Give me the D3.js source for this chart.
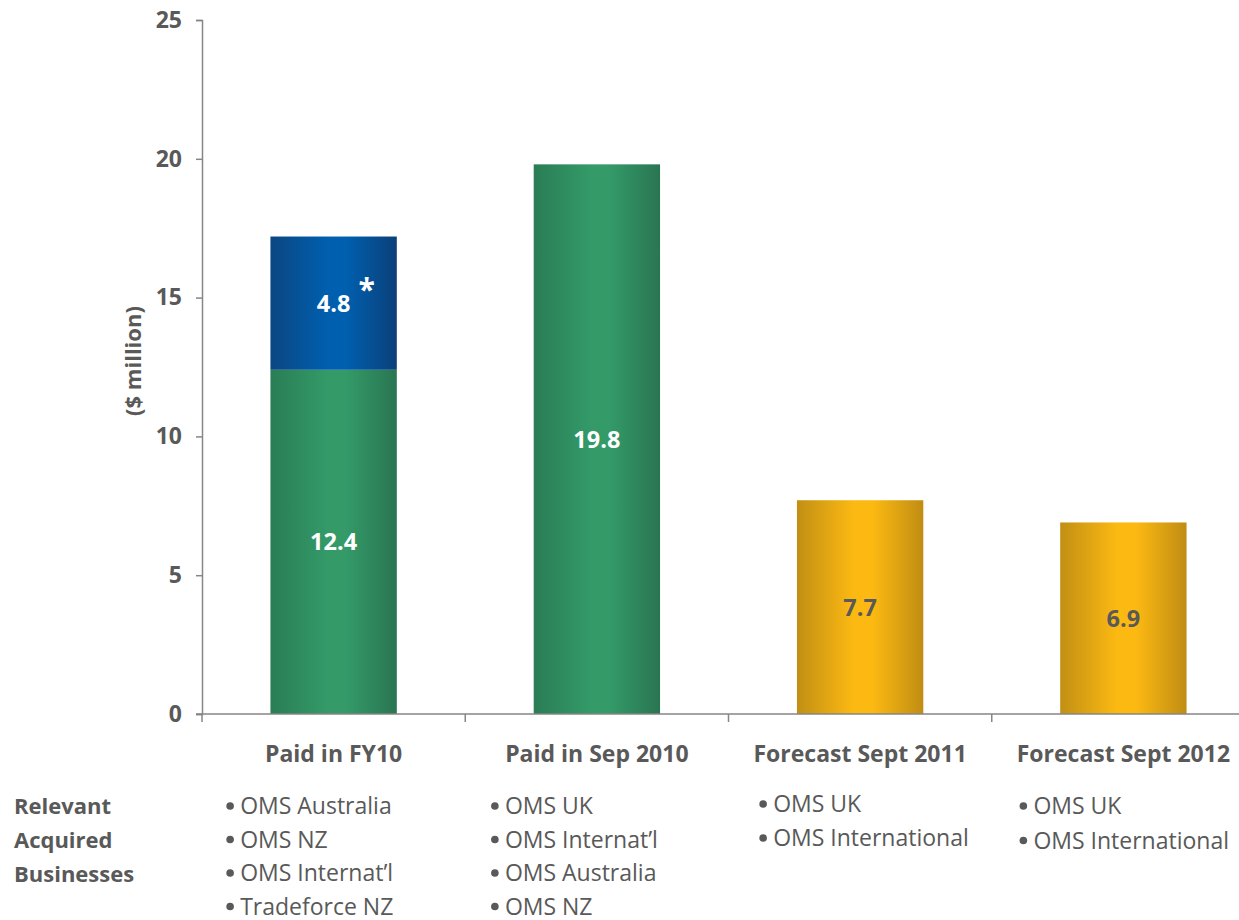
<!DOCTYPE html>
<html>
<head>
<meta charset="utf-8">
<script src="https://cdn.jsdelivr.net/npm/d3@7"></script>
<style>
  html, body { margin: 0; padding: 0; background: #fff; }
  svg { display: block; font-family: "Open Sans", Lato, sans-serif; }
</style>
</head>
<body>
<svg id="chart" width="1239" height="920"></svg>
<script>
// Earn-out payments by period ($ million)
const categories = ["Paid in FY10", "Paid in Sep 2010", "Forecast Sept 2011", "Forecast Sept 2012"];
const paidValues = [12.4, 19.8, 0, 0];       // green segments
const extraValues = [4.8, 0, 0, 0];          // blue segment stacked on top
const forecastValues = [0, 0, 7.7, 6.9];     // gold forecast bars
const yTicks = [0, 5, 10, 15, 20, 25];
const businesses = [
  ["OMS Australia", "OMS NZ", "OMS Internat\u2019l", "Tradeforce NZ"],
  ["OMS UK", "OMS Internat\u2019l", "OMS Australia", "OMS NZ"],
  ["OMS UK", "OMS International"],
  ["OMS UK", "OMS International"]
];
const rowLabel = ["Relevant", "Acquired", "Businesses"];

const svg = d3.select("#chart");
const textColor = "#595959";
const axisColor = "#868686";
const fontFam = "'Open Sans', Lato, sans-serif";

const x = d3.scaleBand().domain(categories).range([202, 1255]).padding(0);
const y = d3.scaleLinear().domain([0, 25]).range([714, 20]);
const barW = x.bandwidth() * 0.48;
const barX = c => x(c) + (x.bandwidth() - barW) / 2;

// Horizontal "cylinder" gradients
const defs = svg.append("defs");
function grad(id, edgeL, mid, edgeR) {
  const g = defs.append("linearGradient").attr("id", id)
    .attr("x1", "0%").attr("x2", "100%").attr("y1", "0%").attr("y2", "0%");
  g.append("stop").attr("offset", "0%").attr("stop-color", edgeL);
  g.append("stop").attr("offset", "45%").attr("stop-color", mid);
  g.append("stop").attr("offset", "60%").attr("stop-color", mid);
  g.append("stop").attr("offset", "100%").attr("stop-color", edgeR);
}
grad("gGreen", "#2a7d55", "#339a68", "#2a7552");
grad("gBlue", "#0b4682", "#005fae", "#0a4079");
grad("gGold", "#c18f14", "#fcb912", "#c08d13");

// Green paid bars
svg.append("g").selectAll("rect").data(categories.filter((c, i) => paidValues[i] > 0))
  .join("rect")
  .attr("x", c => barX(c))
  .attr("width", barW)
  .attr("y", c => y(paidValues[categories.indexOf(c)]))
  .attr("height", c => y(0) - y(paidValues[categories.indexOf(c)]))
  .attr("fill", "url(#gGreen)");

// Blue stacked segment
svg.append("g").selectAll("rect").data(categories.filter((c, i) => extraValues[i] > 0))
  .join("rect")
  .attr("x", c => barX(c))
  .attr("width", barW)
  .attr("y", c => { const i = categories.indexOf(c); return y(paidValues[i] + extraValues[i]); })
  .attr("height", c => { const i = categories.indexOf(c); return y(paidValues[i]) - y(paidValues[i] + extraValues[i]); })
  .attr("fill", "url(#gBlue)");

// Gold forecast bars
svg.append("g").selectAll("rect").data(categories.filter((c, i) => forecastValues[i] > 0))
  .join("rect")
  .attr("x", c => barX(c))
  .attr("width", barW)
  .attr("y", c => y(forecastValues[categories.indexOf(c)]))
  .attr("height", c => y(0) - y(forecastValues[categories.indexOf(c)]))
  .attr("fill", "url(#gGold)");

// Value labels centred in each segment
const labels = [];
categories.forEach((c, i) => {
  const cx = x(c) + x.bandwidth() / 2;
  if (paidValues[i] > 0) labels.push({ x: cx, y: (y(0) + y(paidValues[i])) / 2, t: paidValues[i].toFixed(1), fill: "#fff" });
  if (extraValues[i] > 0) labels.push({ x: cx, y: (y(paidValues[i]) + y(paidValues[i] + extraValues[i])) / 2, t: extraValues[i].toFixed(1), fill: "#fff", star: true });
  if (forecastValues[i] > 0) labels.push({ x: cx, y: (y(0) + y(forecastValues[i])) / 2, t: forecastValues[i].toFixed(1), fill: textColor });
});
const lg = svg.append("g").attr("font-weight", "bold").attr("font-size", 23.5);
lg.selectAll("text.v").data(labels).join("text").attr("class", "v")
  .attr("x", d => d.x).attr("y", d => d.y).attr("dy", "0.36em")
  .attr("text-anchor", "middle").attr("fill", d => d.fill).text(d => d.t);
lg.selectAll("text.s").data(labels.filter(d => d.star)).join("text").attr("class", "s")
  .attr("x", d => d.x + 33).attr("y", d => d.y - 3)
  .attr("text-anchor", "middle").attr("fill", "#fff").attr("font-size", 30).text("*");

// Y axis
const yAxis = svg.append("g").attr("transform", "translate(202,0)")
  .call(d3.axisLeft(y).tickValues(yTicks).tickSize(6).tickPadding(14).tickFormat(d3.format("d")));
yAxis.select(".domain").attr("stroke", axisColor).attr("stroke-width", 1.5);
yAxis.selectAll(".tick line").attr("stroke", axisColor).attr("stroke-width", 1.5);
yAxis.selectAll(".tick text").attr("fill", textColor).attr("font-size", 23)
  .attr("font-weight", "bold").attr("font-family", fontFam);

// X axis with tick marks at band boundaries
const xAxisG = svg.append("g").attr("transform", `translate(0,${y(0)})`);
xAxisG.append("line").attr("x1", 196).attr("x2", 1239).attr("y1", 0).attr("y2", 0)
  .attr("stroke", axisColor).attr("stroke-width", 1.5);
const bounds = categories.map(c => x(c)).concat([x.range()[1]]);
xAxisG.selectAll("line.t").data(bounds).join("line").attr("class", "t")
  .attr("x1", d => d).attr("x2", d => d).attr("y1", 0).attr("y2", 8)
  .attr("stroke", axisColor).attr("stroke-width", 1.5);
xAxisG.selectAll("text").data(categories).join("text")
  .attr("x", c => x(c) + x.bandwidth() / 2).attr("y", 48)
  .attr("text-anchor", "middle").attr("fill", textColor)
  .attr("font-size", 23).attr("font-weight", "bold").text(c => c);

// Y axis title
svg.append("text")
  .attr("transform", "translate(141,361) rotate(-90)")
  .attr("text-anchor", "middle").attr("fill", textColor)
  .attr("font-size", 22).attr("font-weight", "bold").text("($ million)");

// Row label on the left
svg.append("g").selectAll("text").data(rowLabel).join("text")
  .attr("x", 14).attr("y", (d, i) => 814 + i * 34)
  .attr("fill", textColor).attr("font-size", 22).attr("font-weight", "bold").text(d => d);

// Bullet lists of acquired businesses under each column
const rowStarts = [814, 814, 812, 814];
const rowGaps = [33.5, 33.5, 34, 34.5];
const colOffsets = [-93.5, -92, -87, -90];
categories.forEach((c, ci) => {
  const left = x(c) + x.bandwidth() / 2 + colOffsets[ci];
  const g = svg.append("g");
  g.selectAll("circle").data(businesses[ci]).join("circle")
    .attr("cx", left - 10).attr("cy", (d, i) => rowStarts[ci] + i * rowGaps[ci] - 8)
    .attr("r", 3.8).attr("fill", textColor);
  g.selectAll("text").data(businesses[ci]).join("text")
    .attr("x", left).attr("y", (d, i) => rowStarts[ci] + i * rowGaps[ci])
    .attr("fill", textColor).attr("font-size", 23).text(d => d);
});
</script>
</body>
</html>
